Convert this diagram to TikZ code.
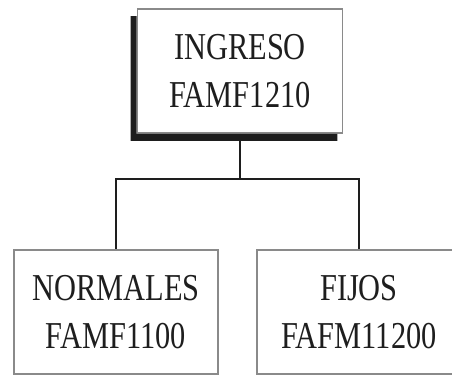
\documentclass[tikz,border=0pt]{standalone}
\usepackage{fontspec}
\setmainfont{Liberation Serif}[FakeStretch=0.8]
\usetikzlibrary{calc}
\newcommand{\px}{0.75pt}
\definecolor{Tinta}{HTML}{1E1E1E}
\definecolor{Borde}{HTML}{8A8A8A}
\tikzset{
  cajon/.style={draw=Borde, line width=1.2pt, fill=white, align=center, text=Tinta,
    minimum width=205*\px, minimum height=124*\px, inner sep=0pt,
    font=\fontsize{28.5}{35.5}\selectfont},
  rama/.style={draw=Tinta, line width=1.7pt},
  sombra/.style={fill=Tinta}
}
\begin{document}
\begin{tikzpicture}[x=\px, y=-\px]
  \useasboundingbox (0,0) rectangle (452,374);
  \clip (0,0) rectangle (452,374);
  % caja principal con sombra
  \node[cajon] (ingreso) at (240,71) {INGRESO\\FAMF1210};
  \fill[sombra] ($(ingreso.north west)+(-6,8)$) -- ($(ingreso.north west)+(0,8)$)
    -- (ingreso.south west) -- ($(ingreso.south east)+(-6,0)$)
    -- ($(ingreso.south east)+(-6,7)$) -- ($(ingreso.south west)+(-6,7)$) -- cycle;
  % cajas hijas
  \node[cajon, minimum width=204*\px] (normales) at (116,312) {NORMALES\\FAMF1100};
  \node[cajon, minimum width=204*\px] (fijos) at (359,312) {FIJOS\\FAFM11200};
  % conectores
  \coordinate (nudo) at ($(ingreso.south)+(0,45)$);
  \draw[rama] (ingreso.south) -- (nudo);
  \draw[rama] (nudo) -| (normales.north);
  \draw[rama] (nudo) -| (fijos.north);
\end{tikzpicture}
\end{document}
